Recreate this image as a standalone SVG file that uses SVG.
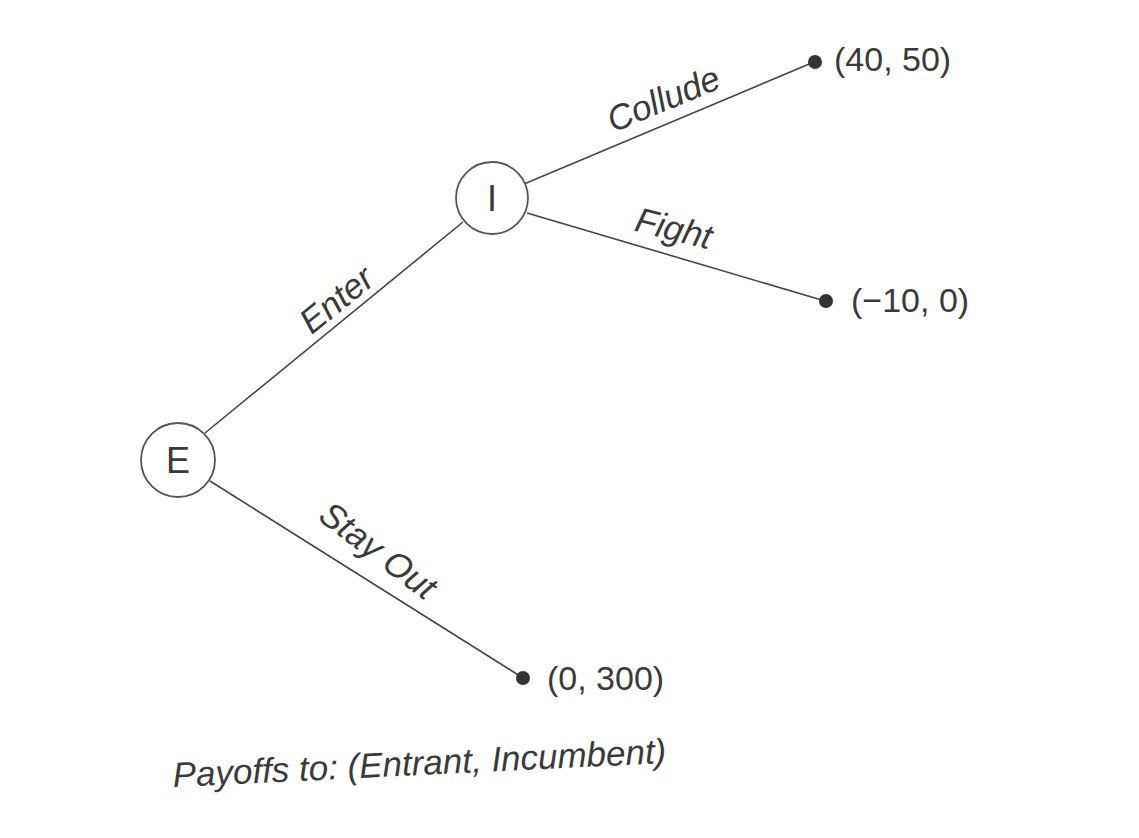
<svg xmlns="http://www.w3.org/2000/svg" width="1139" height="838" viewBox="0 0 1139 838">
<style>
.edge{stroke:#444;stroke-width:1.6;fill:none}
.node{fill:#fff;stroke:#555;stroke-width:1.8}
.t{font-family:"Liberation Sans",Arial,sans-serif;fill:#3a3a3a}
.lbl{font-size:35px;font-style:italic}
.pay{font-size:34px}
.nd{font-size:36px}
.dot{fill:#333}
</style>
<rect width="1139" height="838" fill="#fff"/>
<g id="connectors">
<line class="edge" x1="205" y1="433" x2="463" y2="222"/>
<line class="edge" x1="524" y1="184" x2="814" y2="62"/>
<line class="edge" x1="527" y1="213" x2="825" y2="301"/>
<line class="edge" x1="210" y1="481" x2="523" y2="678"/>
</g>
<g id="node-E">
<circle class="node" cx="178" cy="460" r="37"/>
<text class="t nd" x="178" y="473" text-anchor="middle">E</text>
</g>
<g id="node-I">
<circle class="node" cx="492" cy="198" r="36"/>
<text class="t nd" x="492" y="211" text-anchor="middle">I</text>
</g>
<g id="leaf-collude">
<circle class="dot" cx="815" cy="62" r="7"/>
<text class="t pay" x="834" y="71">(40, 50)</text>
</g>
<g id="leaf-fight">
<circle class="dot" cx="826" cy="301" r="7"/>
<text class="t pay" x="851" y="312">(−10, 0)</text>
</g>
<g id="leaf-stayout">
<circle class="dot" cx="523" cy="678" r="7"/>
<text class="t pay" x="547" y="690">(0, 300)</text>
</g>
<g id="labels">
<text class="t lbl" transform="translate(668,110) rotate(-22.5)" text-anchor="middle">Collude</text>
<text class="t lbl" transform="translate(671,240) rotate(14)" text-anchor="middle">Fight</text>
<text class="t lbl" transform="translate(344,309) rotate(-39)" text-anchor="middle">Enter</text>
<text class="t lbl" transform="translate(371,560) rotate(37)" text-anchor="middle">Stay Out</text>
<text class="t lbl" transform="translate(420,775) rotate(-2.8)" text-anchor="middle">Payoffs to: (Entrant, Incumbent)</text>
</g>
</svg>
